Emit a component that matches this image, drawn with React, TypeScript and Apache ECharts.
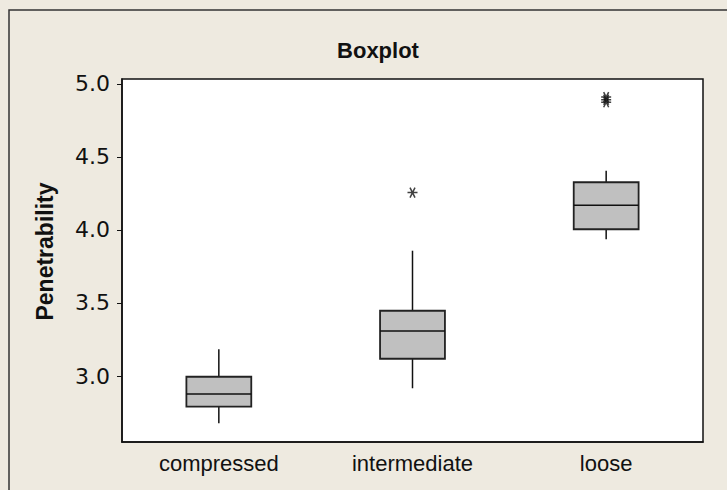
import React, { useEffect, useRef } from "react";
import * as echarts from "echarts";

const categories = ["compressed", "intermediate", "loose"];
// [min whisker, Q1, median, Q3, max whisker]
const boxStats = [
  [2.676, 2.79, 2.877, 2.995, 3.183],
  [2.916, 3.118, 3.308, 3.447, 3.858],
  [3.936, 4.005, 4.169, 4.327, 4.406],
];
// outliers: [category index, value]
const outliers = [
  [1, 4.256],
  [2, 4.91],
  [2, 4.892],
  [2, 4.875],
];
const yTicks = [3.0, 3.5, 4.0, 4.5, 5.0];
const yMin = 2.548;
const yMax = 5.034;

export default function App() {
  const ref = useRef<HTMLDivElement>(null);
  useEffect(() => {
    if (!ref.current) return;
    const chart = echarts.init(ref.current, null, { renderer: "svg" });
    const boxData = boxStats.map((s, i) => [i, ...s]);
    chart.setOption({
      animation: false,
      backgroundColor: "#EEEAE0",
      title: {
        text: "Boxplot",
        left: 373,
        top: 34,
        textAlign: "center",
        textStyle: {
          fontFamily: "Liberation Sans",
          fontWeight: "bold",
          fontSize: 22,
          color: "#111",
        },
      },
      grid: {
        left: 122,
        right: 24,
        top: 79,
        bottom: 48,
        show: true,
        backgroundColor: "#fff",
        borderColor: "#111",
        borderWidth: 1.5,
      },
      xAxis: {
        type: "category",
        data: categories,
        boundaryGap: true,
        axisLine: { lineStyle: { color: "#111", width: 1.5 } },
        axisTick: { alignWithLabel: true, length: 5, lineStyle: { color: "#111" } },
        axisLabel: {
          fontFamily: "Liberation Sans",
          fontSize: 22,
          color: "#111",
          margin: 10,
        },
        splitLine: { show: false },
      },
      yAxis: {
        type: "value",
        min: yMin,
        max: yMax,
        name: "Penetrability",
        nameLocation: "middle",
        nameRotate: 90,
        nameGap: 66,
        nameTextStyle: {
          fontFamily: "Liberation Sans",
          fontWeight: "bold",
          fontSize: 23,
          color: "#111",
          padding: [0, 0, 0, 18],
        },
        axisLine: { show: true, lineStyle: { color: "#111", width: 1.5 } },
        axisTick: {
          show: true,
          length: 5,
          customValues: yTicks,
          lineStyle: { color: "#111" },
        },
        axisLabel: {
          customValues: yTicks,
          formatter: (v: number) => v.toFixed(1),
          fontFamily: "DejaVu Sans",
          fontSize: 22,
          color: "#111",
          margin: 12,
        },
        splitLine: { show: false },
      },
      graphic: [
        {
          type: "polyline",
          shape: { points: [[9, 490], [9, 10], [727, 10]] },
          style: { stroke: "#333", lineWidth: 1.5, fill: "none" },
          silent: true,
        },
      ],
      series: [
        {
          type: "custom",
          data: boxData,
          encode: { x: 0, y: [1, 2, 3, 4, 5] },
          renderItem: (params: any, api: any) => {
            const idx = api.value(0);
            const lo = api.coord([idx, api.value(1)]);
            const q1 = api.coord([idx, api.value(2)]);
            const med = api.coord([idx, api.value(3)]);
            const q3 = api.coord([idx, api.value(4)]);
            const hi = api.coord([idx, api.value(5)]);
            const w = api.size([1, 0])[0] * 0.335;
            const x = lo[0];
            const stroke = { stroke: "#111", lineWidth: 1.5 };
            return {
              type: "group",
              children: [
                { type: "line", shape: { x1: x, y1: lo[1], x2: x, y2: q1[1] }, style: stroke },
                { type: "line", shape: { x1: x, y1: q3[1], x2: x, y2: hi[1] }, style: stroke },
                {
                  type: "rect",
                  shape: { x: x - w / 2, y: q3[1], width: w, height: q1[1] - q3[1] },
                  style: { fill: "#C0C0C0", stroke: "#222", lineWidth: 1.8 },
                },
                {
                  type: "line",
                  shape: { x1: x - w / 2, y1: med[1], x2: x + w / 2, y2: med[1] },
                  style: stroke,
                },
              ],
            };
          },
          z: 3,
        },
        {
          type: "scatter",
          data: outliers,
          symbol: "path://M-4,0L4,0M-2,-3.5L2,3.5M2,-3.5L-2,3.5",
          symbolSize: 10,
          itemStyle: { color: "none", borderColor: "#111", borderWidth: 1.5 },
          z: 4,
        },
      ],
    });
    return () => chart.dispose();
  }, []);
  return (
    <div
      ref={ref}
      style={{ position: "absolute", left: 0, top: 0, width: 727, height: 490 }}
    />
  );
}
